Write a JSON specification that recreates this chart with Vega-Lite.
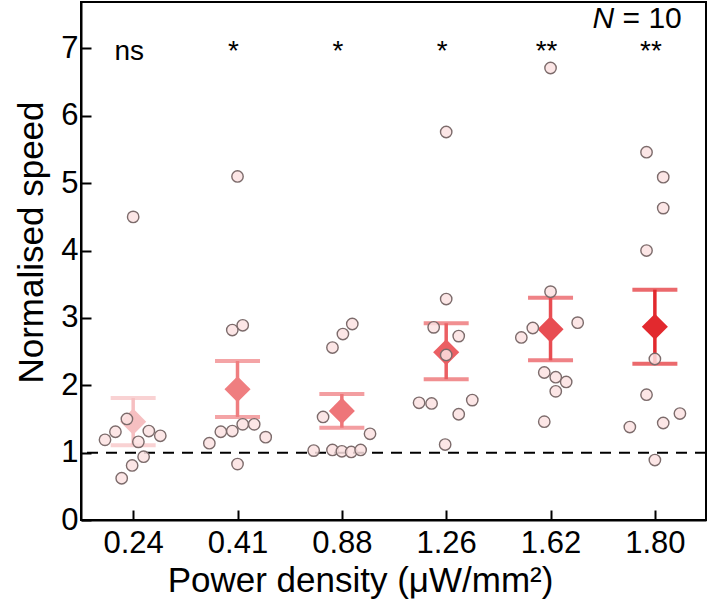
{
  "$schema": "https://vega.github.io/schema/vega-lite/v6.json",
  "width": 625,
  "height": 518,
  "autosize": "none",
  "padding": {"left": 81, "top": 2, "right": 5, "bottom": 87},
  "config": {
    "font": "Liberation Sans",
    "view": {"stroke": "black", "strokeWidth": 2},
    "axis": {
      "domainColor": "black", "domainWidth": 2, "tickColor": "black", "tickWidth": 2,
      "labelColor": "black", "titleColor": "black", "labelFont": "Liberation Sans", "titleFont": "Liberation Sans",
      "labelFontSize": 31, "titleFontSize": 35, "titleFontWeight": "normal", "grid": false
    }
  },
  "datasets": {
    "pts": [
      {"group": "0.24", "xj": 0.73, "speed": 1.19}, {"group": "0.24", "xj": 0.83, "speed": 1.31}, {"group": "0.24", "xj": 0.94, "speed": 1.50}, {"group": "0.24", "xj": 1.05, "speed": 1.16}, {"group": "0.24", "xj": 1.15, "speed": 1.32}, {"group": "0.24", "xj": 1.26, "speed": 1.25}, {"group": "0.24", "xj": 1.10, "speed": 0.94}, {"group": "0.24", "xj": 0.99, "speed": 0.81}, {"group": "0.24", "xj": 0.89, "speed": 0.62}, {"group": "0.24", "xj": 1.00, "speed": 4.50},
      {"group": "0.41", "xj": 1.73, "speed": 1.14}, {"group": "0.41", "xj": 1.84, "speed": 1.31}, {"group": "0.41", "xj": 1.95, "speed": 1.32}, {"group": "0.41", "xj": 2.05, "speed": 1.42}, {"group": "0.41", "xj": 2.16, "speed": 1.42}, {"group": "0.41", "xj": 2.27, "speed": 1.23}, {"group": "0.41", "xj": 2.00, "speed": 0.83}, {"group": "0.41", "xj": 2.00, "speed": 5.10}, {"group": "0.41", "xj": 1.95, "speed": 2.82}, {"group": "0.41", "xj": 2.05, "speed": 2.89},
      {"group": "0.88", "xj": 2.73, "speed": 1.03}, {"group": "0.88", "xj": 2.91, "speed": 1.04}, {"group": "0.88", "xj": 3.00, "speed": 1.02}, {"group": "0.88", "xj": 3.09, "speed": 1.01}, {"group": "0.88", "xj": 3.18, "speed": 1.04}, {"group": "0.88", "xj": 3.27, "speed": 1.28}, {"group": "0.88", "xj": 2.82, "speed": 1.53}, {"group": "0.88", "xj": 2.91, "speed": 2.56}, {"group": "0.88", "xj": 3.01, "speed": 2.76}, {"group": "0.88", "xj": 3.10, "speed": 2.91},
      {"group": "1.26", "xj": 3.74, "speed": 1.74}, {"group": "1.26", "xj": 3.86, "speed": 1.73}, {"group": "1.26", "xj": 4.12, "speed": 1.57}, {"group": "1.26", "xj": 4.25, "speed": 1.78}, {"group": "1.26", "xj": 3.99, "speed": 1.12}, {"group": "1.26", "xj": 4.00, "speed": 5.76}, {"group": "1.26", "xj": 4.00, "speed": 3.28}, {"group": "1.26", "xj": 3.88, "speed": 2.86}, {"group": "1.26", "xj": 4.12, "speed": 2.73}, {"group": "1.26", "xj": 4.00, "speed": 2.45},
      {"group": "1.62", "xj": 5.00, "speed": 3.39}, {"group": "1.62", "xj": 4.83, "speed": 2.85}, {"group": "1.62", "xj": 4.72, "speed": 2.71}, {"group": "1.62", "xj": 5.26, "speed": 2.93}, {"group": "1.62", "xj": 4.94, "speed": 2.19}, {"group": "1.62", "xj": 5.05, "speed": 2.12}, {"group": "1.62", "xj": 5.15, "speed": 2.05}, {"group": "1.62", "xj": 5.05, "speed": 1.91}, {"group": "1.62", "xj": 4.94, "speed": 1.46}, {"group": "1.62", "xj": 5.00, "speed": 6.71},
      {"group": "1.80", "xj": 6.00, "speed": 2.39}, {"group": "1.80", "xj": 5.92, "speed": 1.86}, {"group": "1.80", "xj": 5.76, "speed": 1.38}, {"group": "1.80", "xj": 6.08, "speed": 1.44}, {"group": "1.80", "xj": 6.24, "speed": 1.58}, {"group": "1.80", "xj": 6.00, "speed": 0.89}, {"group": "1.80", "xj": 5.92, "speed": 4.00}, {"group": "1.80", "xj": 5.92, "speed": 5.46}, {"group": "1.80", "xj": 6.08, "speed": 5.09}, {"group": "1.80", "xj": 6.08, "speed": 4.63}
    ],
    "summ": [
      {"group": "0.24", "pos": 1, "mean": 1.46, "lo": 1.11, "hi": 1.81, "sig": "ns"},
      {"group": "0.41", "pos": 2, "mean": 1.94, "lo": 1.53, "hi": 2.36, "sig": "*"},
      {"group": "0.88", "pos": 3, "mean": 1.62, "lo": 1.37, "hi": 1.87, "sig": "*"},
      {"group": "1.26", "pos": 4, "mean": 2.49, "lo": 2.09, "hi": 2.92, "sig": "*"},
      {"group": "1.62", "pos": 5, "mean": 2.83, "lo": 2.37, "hi": 3.30, "sig": "**"},
      {"group": "1.80", "pos": 6, "mean": 2.87, "lo": 2.32, "hi": 3.42, "sig": "**"}
    ]
  },
  "encoding": {
    "x": {"type": "quantitative", "scale": {"domain": [0.5, 6.49], "nice": false, "zero": false}},
    "y": {"type": "quantitative", "scale": {"domain": [0, 7.69], "nice": false, "zero": false}}
  },
  "layer": [
    {
      "data": {"values": [{"ref": 1}]},
      "mark": {"type": "rule", "color": "black", "strokeWidth": 2, "strokeDash": [11, 8]},
      "encoding": {
        "y": {"field": "ref", "type": "quantitative",
          "axis": {
            "values": [0, 0.5, 1, 1.5, 2, 2.5, 3, 3.5, 4, 4.5, 5, 5.5, 6, 6.5, 7, 7.5],
            "labelExpr": "datum.value % 1 === 0 ? format(datum.value, 'd') : ''",
            "tickSize": {"condition": {"test": "datum.value % 1 === 0", "value": -10}, "value": -5},
            "labelPadding": 13, "title": "Normalised speed", "titlePadding": 11, "titleY": 240
          }
        }
      }
    },
    {
      "data": {"name": "summ"},
      "mark": {"type": "rule", "strokeWidth": 3.5},
      "encoding": {
        "x": {"field": "pos", "type": "quantitative",
          "axis": {
            "values": [1, 2, 3, 4, 5, 6],
            "labelExpr": "['0.24','0.41','0.88','1.26','1.62','1.80'][datum.value - 1]",
            "tickSize": -10, "labelPadding": 18, "title": "Power density (μW/mm²)", "titlePadding": 5,
            "titleX": 279
          }
        },
        "y": {"field": "lo"},
        "y2": {"field": "hi"},
        "color": {"field": "group", "type": "nominal", "legend": null,
          "scale": {"domain": ["0.24", "0.41", "0.88", "1.26", "1.62", "1.80"],
            "range": ["#F6BFC1", "#EF7E80", "#EE7579", "#EB5F63", "#E84D52", "#E2292E"]}}
      }
    },
    {
      "data": {"name": "summ"},
      "mark": {"type": "tick", "orient": "horizontal", "size": 45, "thickness": 4},
      "encoding": {
        "x": {"field": "pos"},
        "y": {"field": "lo"},
        "color": {"field": "group", "type": "nominal"}
      }
    },
    {
      "data": {"name": "summ"},
      "mark": {"type": "tick", "orient": "horizontal", "size": 45, "thickness": 4},
      "encoding": {
        "x": {"field": "pos"},
        "y": {"field": "hi"},
        "color": {"field": "group", "type": "nominal"}
      }
    },
    {
      "data": {"name": "summ"},
      "mark": {"type": "point", "shape": "diamond", "filled": true, "size": 680, "opacity": 1},
      "encoding": {
        "x": {"field": "pos"},
        "y": {"field": "mean"},
        "color": {"field": "group", "type": "nominal"}
      }
    },
    {
      "data": {"name": "pts"},
      "mark": {"type": "point", "shape": "circle", "filled": true, "size": 130, "fill": "#FBE2E2", "fillOpacity": 0.85, "stroke": "#7C6B6B", "strokeWidth": 1.4, "strokeOpacity": 1},
      "encoding": {
        "x": {"field": "xj"},
        "y": {"field": "speed"}
      }
    },
    {
      "data": {"name": "summ"},
      "mark": {"type": "text", "fontSize": 28, "baseline": "alphabetic", "align": "center", "dx": -4, "color": "black"},
      "encoding": {
        "x": {"field": "pos"},
        "y": {"datum": 6.83},
        "text": {"field": "sig"}
      }
    },
    {
      "data": {"values": [{"nx": 5.61, "ny": 7.3, "t": "N"}]},
      "mark": {"type": "text", "fontSize": 30, "fontStyle": "italic", "baseline": "alphabetic", "align": "right", "color": "black"},
      "encoding": {
        "x": {"field": "nx"},
        "y": {"field": "ny"},
        "text": {"field": "t"}
      }
    },
    {
      "data": {"values": [{"nx": 5.69, "ny": 7.3, "t": "= 10"}]},
      "mark": {"type": "text", "fontSize": 30, "baseline": "alphabetic", "align": "left", "color": "black"},
      "encoding": {
        "x": {"field": "nx"},
        "y": {"field": "ny"},
        "text": {"field": "t"}
      }
    }
  ]
}
